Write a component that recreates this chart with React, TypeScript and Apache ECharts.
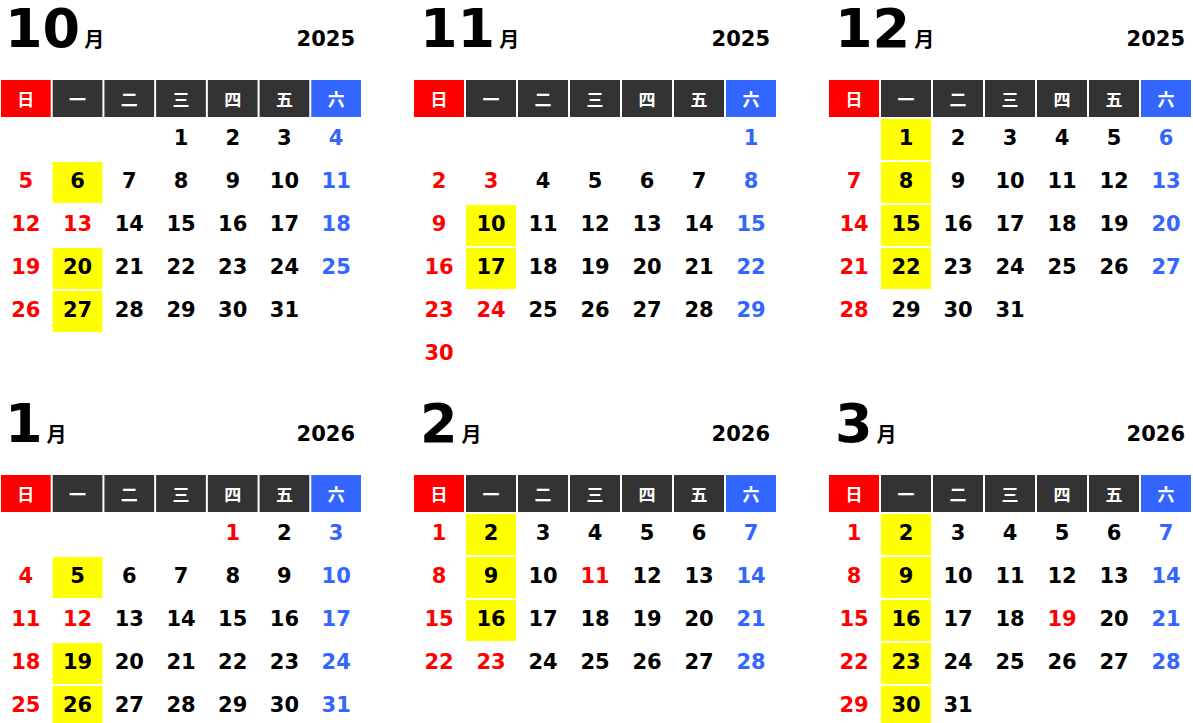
import React, { useEffect, useRef } from "react";
import * as echarts from "echarts";

// ---- data ----
const weekdays = ["日", "一", "二", "三", "四", "五", "六"];
const monthNumbers = [10, 11, 12, 1, 2, 3];
const yearLabels = ["2025", "2025", "2025", "2026", "2026", "2026"];
const firstWeekday = [3, 6, 1, 4, 0, 0]; // 0 = Sunday
const monthLengths = [31, 30, 31, 31, 28, 31];
const highlightedDays = [
  [6, 20, 27],
  [10, 17],
  [1, 8, 15, 22],
  [5, 19, 26],
  [2, 9, 16],
  [2, 9, 16, 23, 30],
];
const holidayDays = [[13], [3, 24], [], [1, 12], [11, 23], [19]];
const weekRows = ["w1", "w2", "w3", "w4", "w5", "w6"];

// ---- styles ----
const NUM_FONT = '"DejaVu Sans", Verdana, sans-serif';
const CJK_FONT = '"Noto Sans CJK JP", "Noto Sans CJK SC", sans-serif';
const RED = "#FF0000";
const BLUE = "#3366FF";
const DARK = "#333333";
const YELLOW = "#FFFF00";
const headerColors = [RED, DARK, DARK, DARK, DARK, DARK, BLUE];

function buildOption() {
  const grid: any[] = [];
  const xAxis: any[] = [];
  const yAxis: any[] = [];
  const series: any[] = [];
  const graphic: any[] = [];

  monthNumbers.forEach((m, i) => {
    const c = i % 3;
    const r = Math.floor(i / 3);
    const L = -2 + 415 * c;
    const T = 395 * r;
    const gh = 2 * i;
    const gd = 2 * i + 1;

    grid.push({ left: L, top: T + 80, width: 364, height: 37 });
    grid.push({ left: L, top: T + 118, width: 364, height: 258 });
    xAxis.push({ type: "category", gridIndex: gh, data: weekdays, show: false });
    xAxis.push({ type: "category", gridIndex: gd, data: weekdays, show: false });
    yAxis.push({ type: "category", gridIndex: gh, data: ["header"], show: false });
    yAxis.push({ type: "category", gridIndex: gd, data: weekRows, inverse: true, show: false });

    // header row
    series.push({
      type: "custom",
      xAxisIndex: gh,
      yAxisIndex: gh,
      silent: true,
      data: weekdays.map((_, k) => [k, 0]),
      renderItem: (params: any, api: any) => {
        const k = params.dataIndex;
        const p = api.coord([api.value(0), api.value(1)]);
        const s = api.size([1, 1]);
        return {
          type: "group",
          children: [
            {
              type: "rect",
              shape: { x: p[0] - s[0] / 2 + 1, y: p[1] - s[1] / 2, width: s[0] - 2, height: s[1] },
              style: { fill: headerColors[k] },
            },
            {
              type: "text",
              x: p[0],
              y: p[1],
              style: {
                text: weekdays[k],
                fill: "#FFFFFF",
                fontSize: 17,
                fontWeight: "bold",
                fontFamily: CJK_FONT,
                align: "center",
                verticalAlign: "middle",
              },
            },
          ],
        };
      },
    });

    // day cells
    const dayData: number[][] = [];
    for (let d = 1; d <= monthLengths[i]; d++) {
      const pos = firstWeekday[i] + d - 1;
      dayData.push([pos % 7, Math.floor(pos / 7), d]);
    }
    const hl = highlightedDays[i];
    const hol = holidayDays[i];
    series.push({
      type: "custom",
      xAxisIndex: gd,
      yAxisIndex: gd,
      silent: true,
      data: dayData,
      renderItem: (params: any, api: any) => {
        const col = api.value(0);
        const day = api.value(2);
        const p = api.coord([col, api.value(1)]);
        const s = api.size([1, 1]);
        const color = col === 0 || hol.indexOf(day) >= 0 ? RED : col === 6 ? BLUE : "#000000";
        const children: any[] = [];
        if (hl.indexOf(day) >= 0) {
          children.push({
            type: "rect",
            shape: { x: p[0] - s[0] / 2 + 1, y: p[1] - s[1] / 2 + 1, width: s[0] - 2, height: s[1] - 2 },
            style: { fill: YELLOW },
          });
        }
        children.push({
          type: "text",
          x: p[0],
          y: p[1] - 2,
          style: {
            text: String(day),
            fill: color,
            fontSize: 21,
            fontWeight: "bold",
            fontFamily: NUM_FONT,
            align: "center",
            verticalAlign: "middle",
          },
        });
        return { type: "group", children };
      },
    });

    // titles
    graphic.push({
      type: "text",
      x: L + 7,
      y: T + 28,
      style: {
        text: `{n|${m}}{u|月}`,
        verticalAlign: "middle",
        align: "left",
        rich: {
          n: { fontSize: 54, fontWeight: "bold", fontFamily: NUM_FONT, fill: "#000", color: "#000" },
          u: {
            fontSize: 20,
            fontWeight: "bold",
            fontFamily: CJK_FONT,
            fill: "#000",
            color: "#000",
            padding: [20, 0, 0, 4],
          },
        },
      },
    });
    graphic.push({
      type: "text",
      x: L + 357,
      y: T + 38.8,
      style: {
        text: yearLabels[i],
        fill: "#000",
        fontSize: 21,
        fontWeight: "bold",
        fontFamily: NUM_FONT,
        align: "right",
        verticalAlign: "middle",
      },
    });
  });

  return {
    animation: false,
    backgroundColor: "#FFFFFF",
    grid,
    xAxis,
    yAxis,
    series,
    graphic,
  };
}

export default function App() {
  const ref = useRef<HTMLDivElement>(null);
  useEffect(() => {
    if (!ref.current) return;
    const chart = echarts.init(ref.current, undefined, { renderer: "svg" });
    chart.setOption(buildOption() as any);
    return () => chart.dispose();
  }, []);
  return (
    <div
      style={{
        position: "absolute",
        left: 0,
        top: 0,
        width: 1193,
        height: 723,
        overflow: "hidden",
        background: "#FFFFFF",
      }}
    >
      <div ref={ref} style={{ width: 1193, height: 780 }} />
    </div>
  );
}
